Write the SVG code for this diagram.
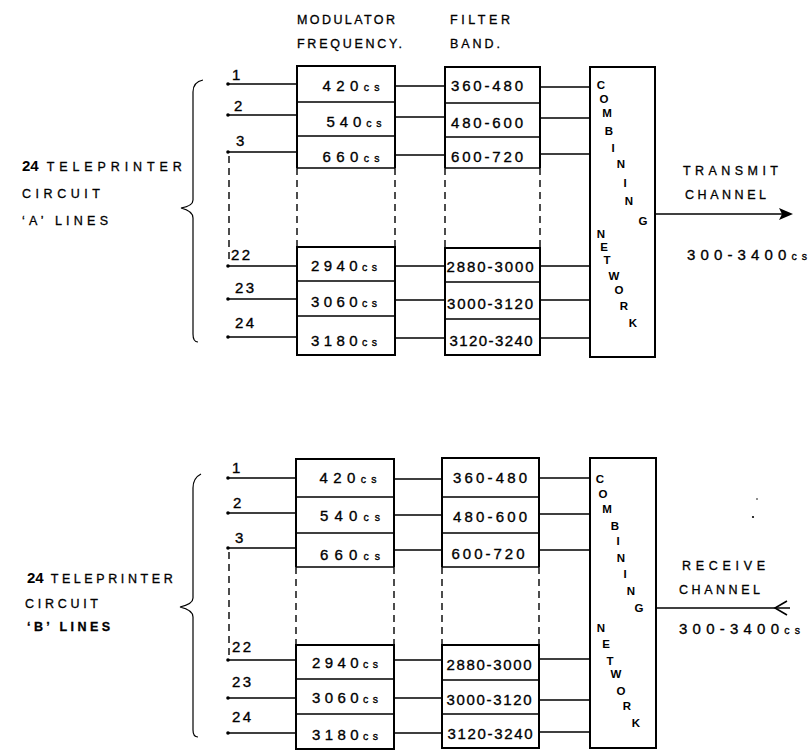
<svg xmlns="http://www.w3.org/2000/svg" width="808" height="751" viewBox="0 0 808 751">
<style>
  .t { font-family: "Liberation Sans", "DejaVu Sans", sans-serif; fill: #000; }
  .num { font-size: 15px; stroke: #000; stroke-width: 0.35; }
  .cs { font-size: 10.5px; }
  .hd { font-size: 12.5px; stroke: #000; stroke-width: 0.3; }
  .lbl { font-size: 12.5px; stroke: #000; stroke-width: 0.3; }
  .big { font-size: 15px; font-weight: bold; }
  .cn { font-size: 11.5px; font-weight: bold; text-anchor: middle; }
  .mid { text-anchor: middle; }
  .box { fill: none; stroke: #000; stroke-width: 2; }
  .row { fill: none; stroke: #000; stroke-width: 1.6; }
  .dash { fill: none; stroke: #000; stroke-width: 1.4; stroke-dasharray: 7 5; }
  .ln { fill: none; stroke: #000; stroke-width: 1.6; }
  .thin { fill: none; stroke: #000; stroke-width: 1.2; }
  .dot { fill: #000; }
</style>

<!-- ===================== TOP SECTION (A lines) ===================== -->
<g id="headers">
  <text class="t hd" x="297" y="24" textLength="98" lengthAdjust="spacing">MODULATOR</text>
  <text class="t hd" x="297" y="48" textLength="105" lengthAdjust="spacing">FREQUENCY.</text>
  <text class="t hd" x="450" y="24" textLength="60" lengthAdjust="spacing">FILTER</text>
  <text class="t hd" x="450" y="48" textLength="50" lengthAdjust="spacing">BAND.</text>
</g>

<g id="label-a">
  <text class="t" x="22" y="171"><tspan class="big">24</tspan><tspan class="lbl" dx="8" textLength="135" lengthAdjust="spacing">TELEPRINTER</tspan></text>
  <text class="t lbl" x="22" y="198" textLength="78" lengthAdjust="spacing">CIRCUIT</text>
  <text class="t lbl" x="22" y="225" textLength="86" lengthAdjust="spacing">‘A’ LINES</text>
  <path class="thin" d="M203,80 Q193,82 193,92 L193,200 Q193,206 181,208 Q193,211 193,218 L193,334 Q193,342 198,342"/>
</g>

<g id="line-numbers-a">
  <text class="t num" x="232" y="80">1</text>
  <text class="t num" x="234" y="111">2</text>
  <text class="t num" x="236" y="146">3</text>
  <text class="t num" x="231" y="260" textLength="19" lengthAdjust="spacing">22</text>
  <text class="t num" x="235" y="293" textLength="19" lengthAdjust="spacing">23</text>
  <text class="t num" x="235" y="328" textLength="19" lengthAdjust="spacing">24</text>
</g>

<g id="modulator-a">
  <path class="box" d="M297,168 L297,66 L395,66 L395,168"/>
  <path class="row" d="M297,102 L395,102 M297,136 L395,136 M297,168 L395,168"/>
  <path class="dash" d="M297,168 L297,247 M395,168 L395,247"/>
  <path class="box" d="M297,247 L395,247 L395,355 L297,355 Z"/>
  <path class="row" d="M297,281 L395,281 M297,316 L395,316"/>
  <text class="t num mid" x="351" y="91" textLength="57" lengthAdjust="spacing">420<tspan class="cs">cs</tspan></text>
  <text class="t num mid" x="354" y="127" textLength="55" lengthAdjust="spacing">540<tspan class="cs">cs</tspan></text>
  <text class="t num mid" x="351" y="162" textLength="57" lengthAdjust="spacing">660<tspan class="cs">cs</tspan></text>
  <text class="t num mid" x="344" y="271" textLength="66" lengthAdjust="spacing">2940<tspan class="cs">cs</tspan></text>
  <text class="t num mid" x="344" y="307" textLength="66" lengthAdjust="spacing">3060<tspan class="cs">cs</tspan></text>
  <text class="t num mid" x="344" y="346" textLength="66" lengthAdjust="spacing">3180<tspan class="cs">cs</tspan></text>
</g>

<g id="filter-a">
  <path class="box" d="M445,168 L445,67 L540,67 L540,168"/>
  <path class="row" d="M445,103 L540,103 M445,137 L540,137 M445,168 L540,168"/>
  <path class="dash" d="M445,168 L445,248 M540,168 L540,248"/>
  <path class="box" d="M445,248 L540,248 L540,355 L445,355 Z"/>
  <path class="row" d="M445,282 L540,282 M445,319 L540,319"/>
  <text class="t num mid" x="487" y="91" textLength="72" lengthAdjust="spacing">360-480</text>
  <text class="t num mid" x="487" y="128" textLength="72" lengthAdjust="spacing">480-600</text>
  <text class="t num mid" x="487" y="162" textLength="72" lengthAdjust="spacing">600-720</text>
  <text class="t num mid" x="490" y="272" textLength="87" lengthAdjust="spacing">2880-3000</text>
  <text class="t num mid" x="490" y="309" textLength="86" lengthAdjust="spacing">3000-3120</text>
  <text class="t num mid" x="491" y="346" textLength="83" lengthAdjust="spacing">3120-3240</text>
</g>

<g id="combining-a">
  <rect class="box" x="590" y="67" width="65" height="290"/>
  <text class="t cn" x="601" y="89">C</text>
  <text class="t cn" x="604" y="103">O</text>
  <text class="t cn" x="607" y="117">M</text>
  <text class="t cn" x="609" y="135">B</text>
  <text class="t cn" x="613" y="152">I</text>
  <text class="t cn" x="621" y="168">N</text>
  <text class="t cn" x="625" y="187">I</text>
  <text class="t cn" x="629" y="205">N</text>
  <text class="t cn" x="643" y="225">G</text>
  <text class="t cn" x="601" y="238">N</text>
  <text class="t cn" x="604" y="251">E</text>
  <text class="t cn" x="607" y="264">T</text>
  <text class="t cn" x="614" y="280">W</text>
  <text class="t cn" x="619" y="294">O</text>
  <text class="t cn" x="624" y="310">R</text>
  <text class="t cn" x="633" y="327">K</text>
</g>

<g id="transmit-label">
  <text class="t lbl" x="683" y="175" textLength="95" lengthAdjust="spacing">TRANSMIT</text>
  <text class="t lbl" x="685" y="199" textLength="81" lengthAdjust="spacing">CHANNEL</text>
  <text class="t num" x="687" y="260" textLength="120" lengthAdjust="spacing">300-3400<tspan class="cs">cs</tspan></text>
</g>

<!-- ===================== BOTTOM SECTION (B lines) ===================== -->
<g id="label-b">
  <text class="t" x="27" y="583"><tspan class="big">24</tspan><tspan class="lbl" dx="7" textLength="122" lengthAdjust="spacing">TELEPRINTER</tspan></text>
  <text class="t lbl" x="25" y="608" textLength="73" lengthAdjust="spacing">CIRCUIT</text>
  <text class="t lbl" x="27" y="631" font-weight="bold" textLength="83" lengthAdjust="spacing">‘B’ LINES</text>
  <path class="thin" d="M201,474 Q193,478 193,488 L193,598 Q193,604 180,607 Q193,610 193,617 L193,730 Q193,737 198,737"/>
</g>

<g id="line-numbers-b">
  <text class="t num" x="232" y="473">1</text>
  <text class="t num" x="233" y="508">2</text>
  <text class="t num" x="235" y="543">3</text>
  <text class="t num" x="232" y="652" textLength="19" lengthAdjust="spacing">22</text>
  <text class="t num" x="232" y="687" textLength="19" lengthAdjust="spacing">23</text>
  <text class="t num" x="232" y="722" textLength="19" lengthAdjust="spacing">24</text>
</g>

<g id="modulator-b">
  <path class="box" d="M296,567 L296,459 L394,459 L394,567"/>
  <path class="row" d="M296,497 L394,497 M296,533 L394,533 M296,567 L394,567"/>
  <path class="dash" d="M296,567 L296,645 M394,567 L394,645"/>
  <path class="box" d="M296,645 L394,645 L394,749 L296,749 Z"/>
  <path class="row" d="M296,679 L394,679 M296,714 L394,714"/>
  <text class="t num mid" x="348" y="483" textLength="57" lengthAdjust="spacing">420<tspan class="cs">cs</tspan></text>
  <text class="t num mid" x="350" y="521" textLength="60" lengthAdjust="spacing">540<tspan class="cs">cs</tspan></text>
  <text class="t num mid" x="350" y="560" textLength="60" lengthAdjust="spacing">660<tspan class="cs">cs</tspan></text>
  <text class="t num mid" x="345" y="668" textLength="66" lengthAdjust="spacing">2940<tspan class="cs">cs</tspan></text>
  <text class="t num mid" x="345" y="703" textLength="66" lengthAdjust="spacing">3060<tspan class="cs">cs</tspan></text>
  <text class="t num mid" x="345" y="740" textLength="66" lengthAdjust="spacing">3180<tspan class="cs">cs</tspan></text>
</g>

<g id="filter-b">
  <path class="box" d="M442,567 L442,458 L539,458 L539,567"/>
  <path class="row" d="M442,497 L539,497 M442,533 L539,533 M442,567 L539,567"/>
  <path class="dash" d="M442,567 L442,645 M539,567 L539,645"/>
  <path class="box" d="M442,645 L539,645 L539,748 L442,748 Z"/>
  <path class="row" d="M442,680 L539,680 M442,714 L539,714"/>
  <text class="t num mid" x="490" y="483" textLength="74" lengthAdjust="spacing">360-480</text>
  <text class="t num mid" x="490" y="522" textLength="74" lengthAdjust="spacing">480-600</text>
  <text class="t num mid" x="488" y="559" textLength="73" lengthAdjust="spacing">600-720</text>
  <text class="t num mid" x="489" y="670" textLength="85" lengthAdjust="spacing">2880-3000</text>
  <text class="t num mid" x="489" y="705" textLength="85" lengthAdjust="spacing">3000-3120</text>
  <text class="t num mid" x="490" y="739" textLength="85" lengthAdjust="spacing">3120-3240</text>
</g>

<g id="combining-b">
  <rect class="box" x="590" y="458" width="66" height="290"/>
  <text class="t cn" x="600" y="483">C</text>
  <text class="t cn" x="603" y="498">O</text>
  <text class="t cn" x="607" y="513">M</text>
  <text class="t cn" x="615" y="530">B</text>
  <text class="t cn" x="618" y="545">I</text>
  <text class="t cn" x="621" y="562">N</text>
  <text class="t cn" x="625" y="578">I</text>
  <text class="t cn" x="631" y="595">N</text>
  <text class="t cn" x="639" y="612">G</text>
  <text class="t cn" x="601" y="632">N</text>
  <text class="t cn" x="606" y="648">E</text>
  <text class="t cn" x="610" y="665">T</text>
  <text class="t cn" x="616" y="678">W</text>
  <text class="t cn" x="621" y="695">O</text>
  <text class="t cn" x="627" y="710">R</text>
  <text class="t cn" x="636" y="727">K</text>
</g>

<g id="receive-label">
  <text class="t lbl" x="682" y="570" textLength="83" lengthAdjust="spacing">RECEIVE</text>
  <text class="t lbl" x="679" y="594" textLength="81" lengthAdjust="spacing">CHANNEL</text>
  <text class="t num" x="679" y="634" textLength="121" lengthAdjust="spacing">300-3400<tspan class="cs">cs</tspan></text>
</g>

<!-- ===================== CONNECTORS ===================== -->
<g id="connectors">
  <!-- top: input lines -->
  <path class="ln" d="M228,84 L297,84 M228,115 L297,115 M228,152 L297,152 M228,266 L297,266 M228,299 L297,299 M228,337 L297,337"/>
  <path class="dash" d="M229,156 L229,262"/>
  <circle class="dot" cx="228" cy="84" r="1.8"/>
  <circle class="dot" cx="228" cy="115" r="1.8"/>
  <circle class="dot" cx="228" cy="152" r="1.8"/>
  <circle class="dot" cx="228" cy="266" r="1.8"/>
  <circle class="dot" cx="228" cy="299" r="1.8"/>
  <circle class="dot" cx="228" cy="337" r="1.8"/>
  <!-- top: modulator to filter -->
  <path class="ln" d="M395,86 L445,86 M395,117 L445,117 M395,155 L445,155 M395,266 L445,266 M395,300 L445,300 M395,338 L445,338"/>
  <!-- top: filter to combining -->
  <path class="ln" d="M540,87 L590,87 M540,118 L590,118 M540,154 L590,154 M540,266 L590,266 M540,300 L590,300 M540,338 L590,338"/>
  <!-- transmit arrow -->
  <path class="ln" d="M655,214 L788,214"/>
  <path class="dot" d="M779,208 L793,214 L779,220 L782,214 Z"/>

  <!-- bottom: input lines -->
  <path class="ln" d="M228,478 L296,478 M228,513 L296,513 M228,548 L296,548 M228,660 L296,660 M228,698 L296,698 M228,733 L296,733"/>
  <path class="dash" d="M229,552 L229,656"/>
  <circle class="dot" cx="228" cy="478" r="1.8"/>
  <circle class="dot" cx="228" cy="513" r="1.8"/>
  <circle class="dot" cx="228" cy="548" r="1.8"/>
  <circle class="dot" cx="228" cy="660" r="1.8"/>
  <circle class="dot" cx="228" cy="698" r="1.8"/>
  <circle class="dot" cx="228" cy="733" r="1.8"/>
  <!-- bottom: modulator to filter -->
  <path class="ln" d="M394,479 L442,479 M394,515 L442,515 M394,550 L442,550 M394,660 L442,660 M394,698 L442,698 M394,733 L442,733"/>
  <!-- bottom: filter to combining -->
  <path class="ln" d="M539,478 L590,478 M539,514 L590,514 M539,550 L590,550 M539,659 L590,659 M539,700 L590,700 M539,732 L590,732"/>
  <!-- receive arrow -->
  <path class="ln" d="M656,608 L790,608"/>
  <path class="ln" d="M787,601 L775,608 L787,615" stroke-width="2"/>
</g>

<g id="specks">
  <circle class="dot" cx="757" cy="499" r="0.8"/>
  <circle class="dot" cx="753" cy="517" r="1.1"/>
</g>
</svg>
